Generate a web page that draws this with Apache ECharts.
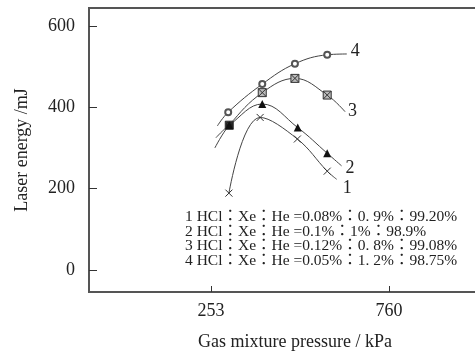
<!DOCTYPE html>
<html>
<head>
<meta charset="utf-8">
<script src="https://cdn.jsdelivr.net/npm/echarts@6/dist/echarts.min.js"></script>
<style>
  html, body { margin: 0; padding: 0; background: #fff; }
  #chart1 { width: 475px; height: 353px; }
</style>
</head>
<body>
<div id="chart1"></div>
<script>
// 数据 (kPa, mJ) - 两端无标记的点只是曲线延长
var pressure1 = [304, 393, 499, 584, 611];
var energy1   = [189, 375, 322, 243, 223];
var pressure2 = [267, 305, 399, 500, 584, 625];
var energy2   = [325, 356, 408, 350, 287, 256];
var pressure3 = [264, 305, 399, 492, 584, 635];
var energy3   = [300, 356, 436, 471, 430, 389];
var pressure4 = [271, 302, 399, 492, 584, 640];
var energy4   = [354, 388, 457, 507, 529, 531];
var bare1 = [4];
var bare2 = [0, 5];
var bare3 = [0, 5];
var bare4 = [0, 5];
var seriesNames = ['1', '2', '3', '4'];
var xTicks = [253, 760];
var yTicks = [0, 200, 400, 600];
var notes = [
    '1 HCl：Xe：He =0.08%：0. 9%：99.20%',
    '2 HCl：Xe：He =0.1%：1%：98.9%',
    '3 HCl：Xe：He =0.12%：0. 8%：99.08%',
    '4 HCl：Xe：He =0.05%：1. 2%：98.75%'
];

var serif = "'Liberation Serif', 'DejaVu Serif', serif";
var noteFont = "'Liberation Serif', 'Noto Sans CJK JP', serif";
var ink = '#222';

function buildData(px, py, bare) {
    return px.map(function (x, i) {
        var item = { value: [x, py[i]] };
        if (bare.indexOf(i) >= 0) {
            item.symbol = 'none';
        }
        return item;
    });
}

function endLabel(offset) { // 曲线末端编号
    return {
        show: true,
        distance: 4,
        offset: offset,
        formatter: '{a}',
        color: ink,
        fontFamily: serif,
        fontSize: 18
    };
}

var lineStyle = { color: '#444', width: 1 };

var data3 = buildData(pressure3, energy3, bare3);
data3[1].itemStyle = { color: '#222' }; // 与曲线2重合的点，原图为实心

option = {
    animation: false,
    backgroundColor: '#fff',
    grid: {
        left: 89,
        top: 8,
        right: -26,
        bottom: 61,
        outerBoundsMode: 'none',
        show: true,
        borderColor: '#555',
        borderWidth: 2
    },
    xAxis: {
        type: 'value',
        min: -94.5,
        max: 1079,
        name: 'Gas mixture pressure / kPa',
        nameLocation: 'middle',
        nameGap: 41,
        nameTextStyle: { color: ink, fontFamily: serif, fontSize: 18 },
        axisLine: { show: true, onZero: false, lineStyle: { color: '#555', width: 2 } },
        axisTick: { show: true, inside: true, length: 6, customValues: xTicks, lineStyle: { color: '#333' } },
        axisLabel: { customValues: xTicks, color: ink, fontFamily: serif, fontSize: 18, margin: 10 },
        splitLine: { show: false }
    },
    yAxis: {
        type: 'value',
        min: -54,
        max: 644,
        name: 'Laser energy /mJ',
        nameLocation: 'middle',
        nameGap: 58,
        nameTextStyle: { color: ink, fontFamily: serif, fontSize: 18 },
        axisLine: { show: true, onZero: false, lineStyle: { color: '#555', width: 2 } },
        axisTick: { show: true, inside: true, length: 8, customValues: yTicks, lineStyle: { color: '#333' } },
        axisLabel: { customValues: yTicks, color: ink, fontFamily: serif, fontSize: 18, margin: 14 },
        splitLine: { show: false }
    },
    series: [
        {
            name: seriesNames[3],
            type: 'line',
            smooth: 0.4,
            symbol: 'emptyCircle',
            symbolSize: 6,
            itemStyle: { color: '#555', borderWidth: 0.8 },
            lineStyle: lineStyle,
            endLabel: endLabel([0, -3]),
            data: buildData(pressure4, energy4, bare4)
        },
        {
            name: seriesNames[2],
            type: 'line',
            smooth: 0.4,
            symbol: 'path://M0,0H10V10H0ZM0,0L10,10M10,0L0,10',
            symbolSize: 8,
            itemStyle: { color: '#bbb', borderColor: '#333', borderWidth: 1 },
            lineStyle: lineStyle,
            endLabel: endLabel([-1, 0]),
            data: data3
        },
        {
            name: seriesNames[1],
            type: 'line',
            smooth: 0.4,
            symbol: 'triangle',
            symbolSize: 8,
            itemStyle: { color: '#111' },
            lineStyle: lineStyle,
            endLabel: endLabel([0, 2]),
            data: buildData(pressure2, energy2, bare2)
        },
        {
            name: seriesNames[0],
            type: 'line',
            smooth: 0.4,
            symbol: 'path://M0,0L10,10M10,0L0,10',
            symbolSize: 7,
            itemStyle: { color: 'none', borderColor: '#333', borderWidth: 1 },
            lineStyle: lineStyle,
            endLabel: endLabel([2, 9]),
            data: buildData(pressure1, energy1, bare1)
        }
    ],
    graphic: notes.map(function (t, i) {
        return {
            type: 'text',
            x: 185,
            y: 217 + i * 14.7,
            style: {
                text: t,
                fill: ink,
                font: '15.5px ' + noteFont,
                verticalAlign: 'middle'
            }
        };
    })
};

var myChart = echarts.init(document.getElementById('chart1'));
myChart.setOption(option);
</script>
</body>
</html>
